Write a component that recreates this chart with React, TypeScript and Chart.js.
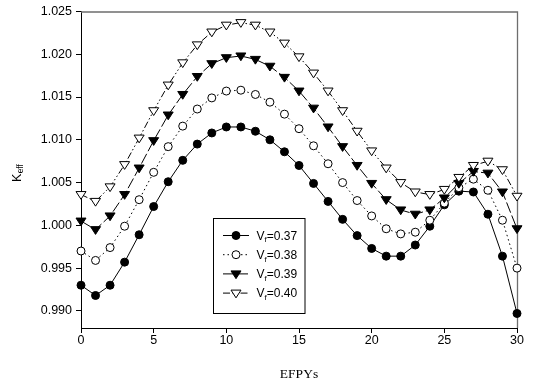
import React, { useEffect, useRef } from "react";
import { Chart, registerables } from "chart.js";

Chart.register(...registerables);

// Effective full-power years (x) and k-effective for each fuel volume fraction
const efpys = [0, 1, 2, 3, 4, 5, 6, 7, 8, 9, 10, 11, 12, 13, 14, 15, 16, 17, 18, 19, 20, 21, 22, 23, 24, 25, 26, 27, 28, 29, 30];

const kVf037 = [0.993, 0.9918, 0.993, 0.9957, 0.9989, 1.0022, 1.0051, 1.0076, 1.0095, 1.0108, 1.0115, 1.0115, 1.011, 1.01, 1.0086, 1.007, 1.0049, 1.0028, 1.0007, 0.9988, 0.9973, 0.9964, 0.9964, 0.9977, 0.9999, 1.0024, 1.004, 1.0039, 1.0013, 0.9964, 0.9897];
const kVf038 = [0.997, 0.9959, 0.9974, 0.9999, 1.003, 1.0062, 1.0092, 1.0116, 1.0136, 1.0149, 1.0157, 1.0158, 1.0153, 1.0144, 1.013, 1.0113, 1.0093, 1.0072, 1.005, 1.0029, 1.0011, 0.9996, 0.999, 0.9992, 1.0006, 1.0026, 1.0044, 1.0054, 1.0041, 1.0006, 0.995];
const kVf039 = [1.0005, 0.9995, 1.0011, 1.0036, 1.0067, 1.0099, 1.0129, 1.0153, 1.0174, 1.0189, 1.0196, 1.0198, 1.0194, 1.0186, 1.0173, 1.0157, 1.0137, 1.0115, 1.0092, 1.007, 1.0049, 1.003, 1.0018, 1.0013, 1.0018, 1.0032, 1.0049, 1.0063, 1.0061, 1.0039, 0.9996];
const kVf040 = [1.0036, 1.0028, 1.0045, 1.0071, 1.0102, 1.0134, 1.0164, 1.019, 1.0211, 1.0226, 1.0234, 1.0237, 1.0234, 1.0226, 1.0213, 1.0197, 1.0178, 1.0157, 1.0134, 1.011, 1.0087, 1.0067, 1.005, 1.0039, 1.0036, 1.0042, 1.0056, 1.007, 1.0075, 1.0065, 1.0034];

const vfValues = ["0.37", "0.38", "0.39", "0.40"];
const xTicks = [0, 5, 10, 15, 20, 25, 30];
const yTicks = [0.99, 0.995, 1.0, 1.005, 1.01, 1.015, 1.02, 1.025];

const SANS = "'Liberation Sans', Arial, sans-serif";
const SERIF = "'Liberation Serif', 'Times New Roman', serif";

type SeriesStyle = {
  data: number[];
  dash: number[];
  marker: "circle" | "triangle";
  filled: boolean;
};

const series: SeriesStyle[] = [
  { data: kVf037, dash: [], marker: "circle", filled: true },
  { data: kVf038, dash: [1.5, 3], marker: "circle", filled: false },
  { data: kVf039, dash: [11, 3], marker: "triangle", filled: true },
  { data: kVf040, dash: [7, 2.5, 1.5, 2.5, 1.5, 2.5], marker: "triangle", filled: false },
];

function drawMarker(ctx: CanvasRenderingContext2D, s: SeriesStyle, x: number, y: number) {
  ctx.save();
  ctx.setLineDash([]);
  ctx.lineWidth = 1;
  ctx.strokeStyle = "#000";
  ctx.fillStyle = s.filled ? "#000" : "#fff";
  ctx.beginPath();
  if (s.marker === "circle") {
    ctx.arc(x, y, 4, 0, Math.PI * 2);
  } else {
    const r = 5;
    ctx.moveTo(x - r, y - r * 0.6);
    ctx.lineTo(x + r, y - r * 0.6);
    ctx.lineTo(x, y + r * 0.95);
    ctx.closePath();
  }
  ctx.fill();
  ctx.stroke();
  ctx.restore();
}

const framePlugin = {
  id: "frameAndLabels",
  beforeDraw(chart: any) {
    const ctx = chart.ctx as CanvasRenderingContext2D;
    ctx.save();
    ctx.fillStyle = "#fff";
    ctx.fillRect(0, 0, chart.width, chart.height);
    ctx.restore();
  },
  afterDatasetsDraw(chart: any) {
    const ctx = chart.ctx as CanvasRenderingContext2D;
    const { left, right, top, bottom } = chart.chartArea;

    // top and right frame lines
    ctx.save();
    ctx.strokeStyle = "#6e6e6e";
    ctx.lineWidth = 1.3;
    ctx.beginPath();
    ctx.moveTo(left, top + 0.5);
    ctx.lineTo(right + 0.5, top + 0.5);
    ctx.lineTo(right + 0.5, bottom);
    ctx.stroke();
    ctx.restore();

    // markers drawn on top of the lines
    series.forEach((s, i) => {
      const meta = chart.getDatasetMeta(i);
      meta.data.forEach((pt: any) => drawMarker(ctx, s, pt.x, pt.y));
    });

    // y axis title: K with subscript "eff"
    ctx.save();
    ctx.translate(20.5, 182);
    ctx.rotate(-Math.PI / 2);
    ctx.fillStyle = "#000";
    ctx.textBaseline = "alphabetic";
    ctx.textAlign = "left";
    ctx.font = `12.5px ${SANS}`;
    ctx.fillText("K", 0, 0);
    const kw = ctx.measureText("K").width;
    ctx.font = `8.5px ${SANS}`;
    ctx.fillText("eff", kw + 0.3, 2.5);
    ctx.restore();

    // legend
    const bx = 213.5;
    const by = 218.5;
    ctx.save();
    ctx.strokeStyle = "#000";
    ctx.lineWidth = 1;
    ctx.strokeRect(bx, by, 91.5, 95);
    series.forEach((s, i) => {
      const y = 235.5 + i * 19.2;
      ctx.save();
      ctx.setLineDash(s.dash);
      ctx.strokeStyle = "#000";
      ctx.lineWidth = 1;
      ctx.beginPath();
      ctx.moveTo(223, y);
      ctx.lineTo(249, y);
      ctx.stroke();
      ctx.restore();
      drawMarker(ctx, s, 236, y);

      ctx.fillStyle = "#000";
      ctx.textBaseline = "alphabetic";
      ctx.textAlign = "left";
      let x = 256.5;
      const base = y + 4.3;
      ctx.font = `12px ${SANS}`;
      ctx.fillText("V", x, base);
      x += ctx.measureText("V").width;
      ctx.font = `8px ${SANS}`;
      ctx.fillText("f", x, base + 2.5);
      x += ctx.measureText("f").width;
      ctx.font = `12px ${SANS}`;
      ctx.fillText("=" + vfValues[i], x, base);
    });
    ctx.restore();
  },
};

export default function App() {
  const canvasRef = useRef<HTMLCanvasElement | null>(null);

  useEffect(() => {
    const canvas = canvasRef.current;
    if (!canvas) return;

    const datasets = series.map((s, i) => ({
      label: "Vf=" + vfValues[i],
      data: efpys.map((x, j) => ({ x, y: s.data[j] })),
      borderColor: "#000",
      borderWidth: 1,
      borderDash: s.dash,
      pointRadius: 0,
      pointHoverRadius: 0,
      fill: false,
      tension: 0,
      clip: false as any,
    }));

    const chart = new Chart(canvas, {
      type: "line",
      data: { datasets },
      options: {
        animation: false,
        responsive: false,
        events: [],
        layout: { padding: { left: 0, top: 11, right: 31, bottom: 0 } },
        plugins: { legend: { display: false }, tooltip: { enabled: false } },
        scales: {
          x: {
            type: "linear",
            min: 0,
            max: 30,
            afterFit(scale: any) {
              scale.height = 59;
            },
            afterBuildTicks(scale: any) {
              scale.ticks = xTicks.map((v) => ({ value: v }));
            },
            ticks: {
              color: "#000",
              font: { family: SANS, size: 12.5 },
              padding: 0,
              maxRotation: 0,
              callback: (v: any) => String(v),
            },
            grid: { display: true, drawOnChartArea: false, drawTicks: true, tickLength: 5, color: "#000" },
            border: { display: true, color: "#000", width: 1 },
            title: {
              display: true,
              text: "EFPYs",
              color: "#000",
              font: { family: SERIF, size: 13.5 },
              padding: { top: 0, bottom: 4 },
            },
          },
          y: {
            type: "linear",
            min: 0.988,
            max: 1.025,
            afterFit(scale: any) {
              scale.width = 81;
            },
            afterBuildTicks(scale: any) {
              scale.ticks = yTicks.map((v) => ({ value: v }));
            },
            ticks: {
              color: "#000",
              font: { family: SANS, size: 12.5 },
              padding: 4,
              callback: (v: any) => Number(v).toFixed(3),
            },
            grid: { display: true, drawOnChartArea: false, drawTicks: true, tickLength: 5, color: "#000" },
            border: { display: true, color: "#000", width: 1 },
            title: { display: false },
          },
        },
      },
      plugins: [framePlugin],
    });

    return () => chart.destroy();
  }, []);

  return (
    <div style={{ position: "fixed", left: 0, top: 0, width: 548, height: 387, background: "#fff" }}>
      <canvas ref={canvasRef} width={548} height={387} style={{ display: "block" }} />
    </div>
  );
}
